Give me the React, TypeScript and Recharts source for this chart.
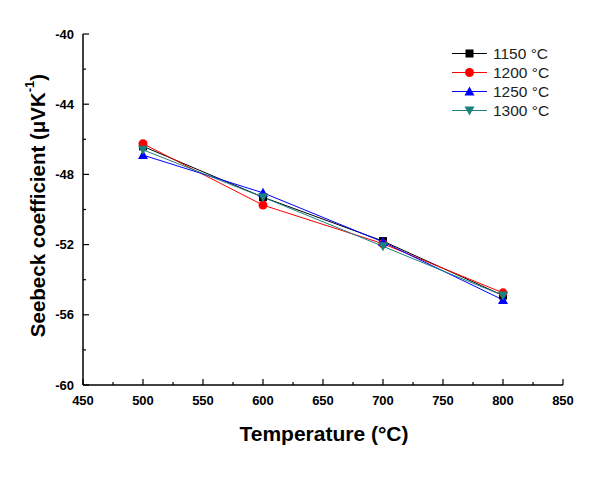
import React from 'react';
import { LineChart, Line, XAxis, YAxis, Legend } from 'recharts';

const temperatures = [500, 600, 700, 800];
const s1150 = [-46.4, -49.3, -51.8, -54.9];
const s1200 = [-46.25, -49.75, -51.95, -54.75];
const s1250 = [-46.9, -49.05, -51.85, -55.15];
const s1300 = [-46.6, -49.3, -52.1, -54.9];
const seriesNames = ['1150 °C', '1200 °C', '1250 °C', '1300 °C'];
const seriesKeys = ['s1150', 's1200', 's1250', 's1300'];
const seriesColors = ['#000000', '#ff0000', '#0000ff', '#1a8080'];
const seriesShapes = ['square', 'circle', 'triUp', 'triDown'];
const xTicks = [450, 475, 500, 525, 550, 575, 600, 625, 650, 675, 700, 725, 750, 775, 800, 825, 850];
const yTicks = [-60, -58, -56, -54, -52, -50, -48, -46, -44, -42, -40];

const seriesValues = [s1150, s1200, s1250, s1300];
const data = temperatures.map((t, i) => {
  const row: any = { t };
  seriesKeys.forEach((k, j) => {
    row[k] = seriesValues[j][i];
  });
  return row;
});

const FONT = '"Liberation Sans", Arial, sans-serif';

function Marker({ shape, cx, cy, color }: any) {
  if (shape === 'square') {
    return <rect x={cx - 4} y={cy - 4} width={8} height={8} fill={color} />;
  }
  if (shape === 'circle') {
    return <circle cx={cx} cy={cy} r={4.5} fill={color} />;
  }
  if (shape === 'triUp') {
    return <polygon points={`${cx},${cy - 5} ${cx + 5},${cy + 4} ${cx - 5},${cy + 4}`} fill={color} />;
  }
  return <polygon points={`${cx},${cy + 5} ${cx + 5},${cy - 4} ${cx - 5},${cy - 4}`} fill={color} />;
}

const makeDot = (shape: string, color: string) => (props: any) => {
  const { cx, cy, index } = props;
  if (cx == null || cy == null) return <g key={index} />;
  return <Marker key={index} shape={shape} cx={cx} cy={cy} color={color} />;
};

const XTick = (props: any) => {
  const { x, y, payload } = props;
  const v = payload.value;
  const major = v % 50 === 0;
  return (
    <g>
      <line x1={x} x2={x} y1={y} y2={y - (major ? 6 : 3)} stroke="#000" strokeWidth={1.2} />
      {major && (
        <text x={x} y={y + 20} textAnchor="middle" fontWeight="bold" fontSize={13} fontFamily={FONT} fill="#000">
          {v}
        </text>
      )}
    </g>
  );
};

const YTick = (props: any) => {
  const { x, y, payload } = props;
  const v = payload.value;
  const major = v % 4 === 0;
  return (
    <g>
      <line x1={x} x2={x + (major ? 6 : 3)} y1={y} y2={y} stroke="#000" strokeWidth={1.2} />
      {major && (
        <text x={x - 9} y={y + 4.5} textAnchor="end" fontWeight="bold" fontSize={13} fontFamily={FONT} fill="#000">
          {v}
        </text>
      )}
    </g>
  );
};

const YTitle = (props: any) => {
  const { viewBox } = props;
  const cx = 37;
  const cy = viewBox.y + viewBox.height / 2 - 4;
  return (
    <text
      x={cx}
      y={cy}
      transform={`rotate(-90 ${cx} ${cy})`}
      textAnchor="middle"
      dominantBaseline="central"
      fontWeight="bold"
      fontSize={20.5}
      fontFamily={FONT}
      fill="#000"
    >
      Seebeck coefficient (μVK
      <tspan baselineShift="super" fontSize={13}>-1</tspan>
      <tspan>)</tspan>
    </text>
  );
};

const XTitle = (props: any) => {
  const { viewBox } = props;
  const cx = viewBox.x + viewBox.width / 2 + 1;
  return (
    <text x={cx} y={441} textAnchor="middle" fontWeight="bold" fontSize={21} fontFamily={FONT} fill="#000">
      Temperature (°C)
    </text>
  );
};

const renderLegend = () => (
  <div style={{ fontFamily: FONT, fontSize: 15.5, color: '#222' }}>
    {seriesNames.map((name, i) => (
      <div key={name} style={{ display: 'flex', alignItems: 'center', height: 19 }}>
        <svg width={38} height={19}>
          <line x1={1} x2={36} y1={9.5} y2={9.5} stroke={seriesColors[i]} strokeWidth={1.2} />
          <Marker shape={seriesShapes[i]} cx={18.5} cy={9.5} color={seriesColors[i]} />
        </svg>
        <span style={{ marginLeft: 4 }}>{name}</span>
      </div>
    ))}
  </div>
);

export default function App() {
  return (
    <div style={{ position: 'absolute', left: 0, top: 0, background: '#fff', width: 600, height: 478 }}>
      <LineChart width={600} height={478} data={data} margin={{ top: 34, right: 37, bottom: 0, left: 0 }}>
        <XAxis
          dataKey="t"
          type="number"
          domain={[450, 850]}
          ticks={xTicks}
          interval={0}
          tickSize={0}
          tickMargin={0}
          tickLine={false}
          tick={<XTick />}
          height={93}
          axisLine={{ stroke: '#000', strokeWidth: 1.5 }}
          label={<XTitle />}
        />
        <XAxis
          xAxisId="top"
          dataKey="t"
          type="number"
          domain={[450, 850]}
          orientation="top"
          height={0}
          tick={false}
          tickLine={false}
          axisLine={{ stroke: '#000', strokeWidth: 1.5 }}
        />
        <YAxis
          type="number"
          domain={[-60, -40]}
          ticks={yTicks}
          interval={0}
          tickSize={0}
          tickMargin={0}
          tickLine={false}
          tick={<YTick />}
          width={83}
          axisLine={{ stroke: '#000', strokeWidth: 1.5 }}
          label={<YTitle />}
        />
        <YAxis
          yAxisId="right"
          type="number"
          domain={[-60, -40]}
          orientation="right"
          width={0}
          tick={false}
          tickLine={false}
          axisLine={{ stroke: '#000', strokeWidth: 1.5 }}
        />
        {seriesKeys.map((k, i) => (
          <Line
            key={k}
            dataKey={k}
            name={seriesNames[i]}
            stroke={seriesColors[i]}
            strokeWidth={1}
            dot={makeDot(seriesShapes[i], seriesColors[i])}
            activeDot={false}
            isAnimationActive={false}
          />
        ))}
        <Legend
          layout="vertical"
          align="center"
          verticalAlign="middle"
          content={renderLegend}
          wrapperStyle={{ position: 'absolute', left: 451, top: 44, width: 140 }}
        />
      </LineChart>
    </div>
  );
}
